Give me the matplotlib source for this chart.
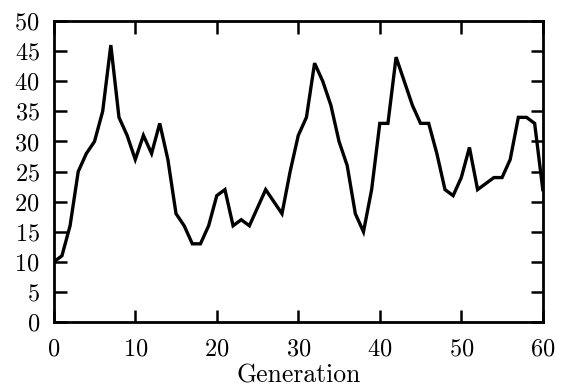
import numpy as np
import matplotlib
matplotlib.use("Agg")
import matplotlib.pyplot as plt

# Data
generation = list(range(61))
values = [10, 11, 16, 25, 28, 30, 35, 46, 34, 31,
          27, 31, 28, 33, 27, 18, 16, 13, 13, 16,
          21, 22, 16, 17, 16, 19, 22, 20, 18, 25,
          31, 34, 43, 40, 36, 30, 26, 18, 15, 22,
          33, 33, 44, 40, 36, 33, 33, 28, 22, 21,
          24, 29, 22, 23, 24, 24, 27, 34, 34, 33,
          22]
x_ticks = [0, 10, 20, 30, 40, 50, 60]
y_ticks = [0, 5, 10, 15, 20, 25, 30, 35, 40, 45, 50]

plt.rcParams['font.family'] = ['cmr10', 'DejaVu Serif']
plt.rcParams['axes.formatter.use_mathtext'] = True

fig = plt.figure(figsize=(5.66, 3.89), dpi=100)
ax = fig.add_axes([0.095, 0.172, 0.864, 0.774])

ax.plot(generation, values, color='black', linewidth=2.4, solid_joinstyle='miter')

ax.set_xlim(0, 60)
ax.set_ylim(0, 50)
ax.set_xticks(x_ticks)
ax.set_yticks(y_ticks)
ax.tick_params(direction='in', length=9, width=1.8, top=True, right=True,
               labelsize=17.5)
ax.tick_params(axis='x', pad=12)
ax.tick_params(axis='y', pad=10)
for s in ax.spines.values():
    s.set_linewidth(2.0)

ax.set_xlabel('Generation', fontsize=18.5, labelpad=2)

fig.savefig('out.png', dpi=100)
